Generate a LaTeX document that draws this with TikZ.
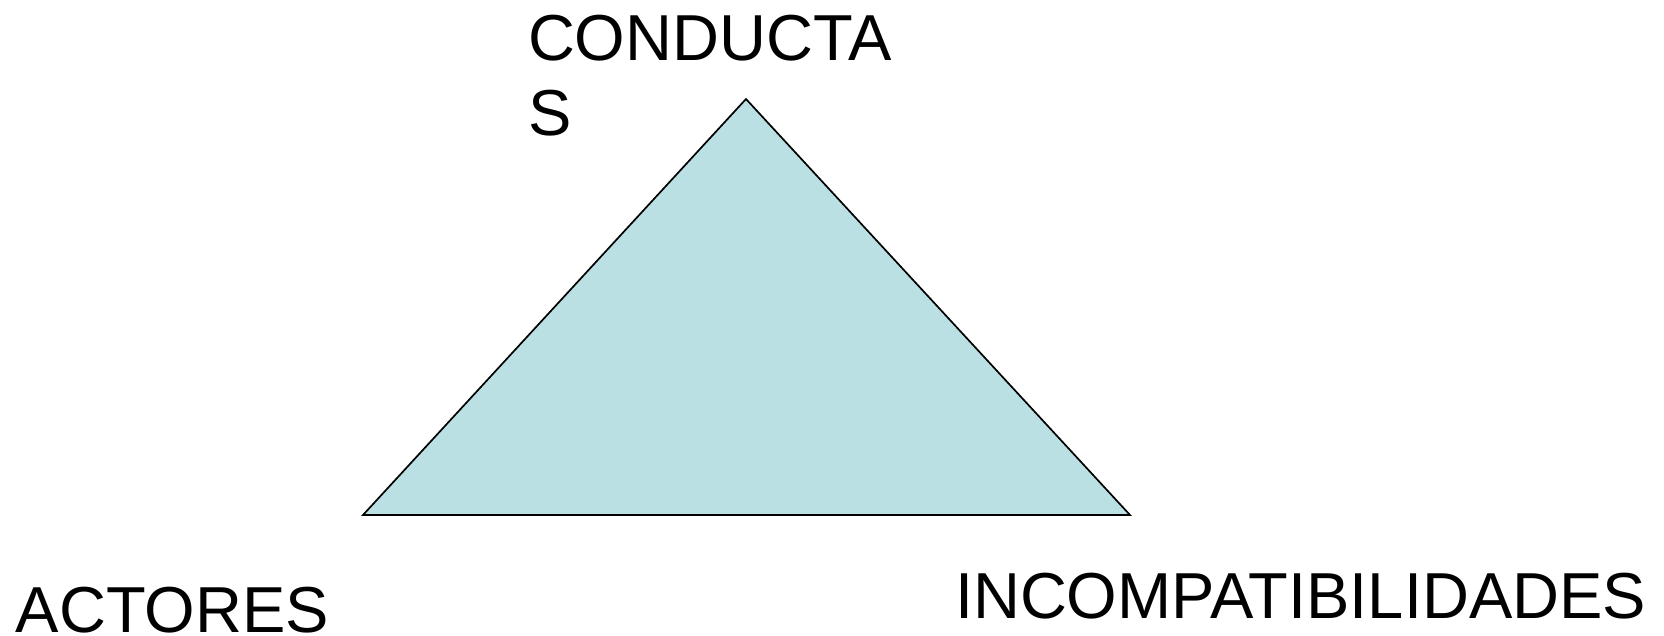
\documentclass[tikz,border=0pt]{standalone}
\usepackage{fontspec}
\setmainfont{Liberation Sans}
\definecolor{trifill}{RGB}{187,224,227}
\begin{document}
\begin{tikzpicture}[x=1pt,y=-1pt,
  lbl/.style={inner sep=0pt, outer sep=0pt, font=\fontsize{65}{75}\selectfont, align=left}]
\useasboundingbox (0,0) rectangle (1664,636);
\coordinate (top) at (746,99);
\coordinate (bl) at (363,515);
\coordinate (br) at (1130,515);
\draw[fill=trifill, line width=1.7pt, line join=miter] (top) -- (bl) -- (br) -- cycle;
\node[lbl, anchor=base west] (conductas) at (528,136) {CONDUCTA\\S};
\node[lbl, anchor=base west] (actores) at (16,632) {ACTORES};
\node[lbl, anchor=base west] (incomp) at (955,618) {INCOMPATIBILIDADES};
\end{tikzpicture}
\end{document}
